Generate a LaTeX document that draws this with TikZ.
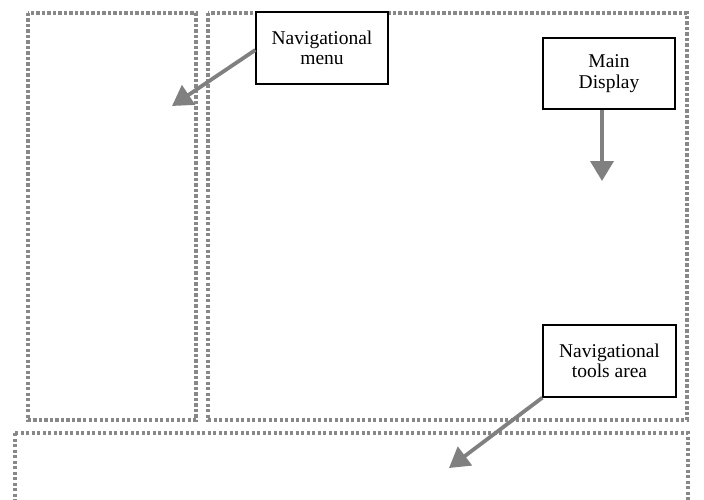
\documentclass[tikz,border=0pt]{standalone}
\usepackage{fontspec}
\setmainfont{Liberation Serif}
\usetikzlibrary{arrows.meta}
\definecolor{dotgray}{HTML}{888888}
\definecolor{arrgray}{HTML}{808080}
\begin{document}
\begin{tikzpicture}[x=1pt,y=-1pt,
  area/.style={draw=dotgray,line width=3.5pt,dash pattern=on 3.2pt off 2.3pt},
  label/.style={draw=black,line width=1.3pt,fill=white,align=center,inner sep=0pt,
    font=\fontsize{19.5}{20.5}\selectfont},
  pointer/.style={draw=arrgray,line width=3.8pt,-{Triangle[length=20pt,width=23pt]}}]
\useasboundingbox (0,0) rectangle (704,500);
\draw[area] (28,13) rectangle (196,420);
\draw[area] (208,13) rectangle (687,420);
\draw[area] (15,433) -- (688,433) -- (688,510);
\draw[area] (15,433) -- (15,510);
\node[label,minimum width=132pt,minimum height=72pt] (nm) at (322,48) {Navigational\\menu};
\node[label,minimum width=132pt,minimum height=71pt] (md) at (609,73.5) {Main\\Display};
\node[label,minimum width=133pt,minimum height=72pt] (nt) at (609.5,361) {Navigational\\tools area};
\coordinate (nmend) at (172,106);
\coordinate (mdend) at (602,181);
\coordinate (ntend) at (449,468);
\draw[pointer] (nm.west |- 0,50) -- (nmend);
\draw[pointer] (md.south -| 602,0) -- (mdend);
\draw[pointer] (nt.south west) -- (ntend);
\end{tikzpicture}
\end{document}
